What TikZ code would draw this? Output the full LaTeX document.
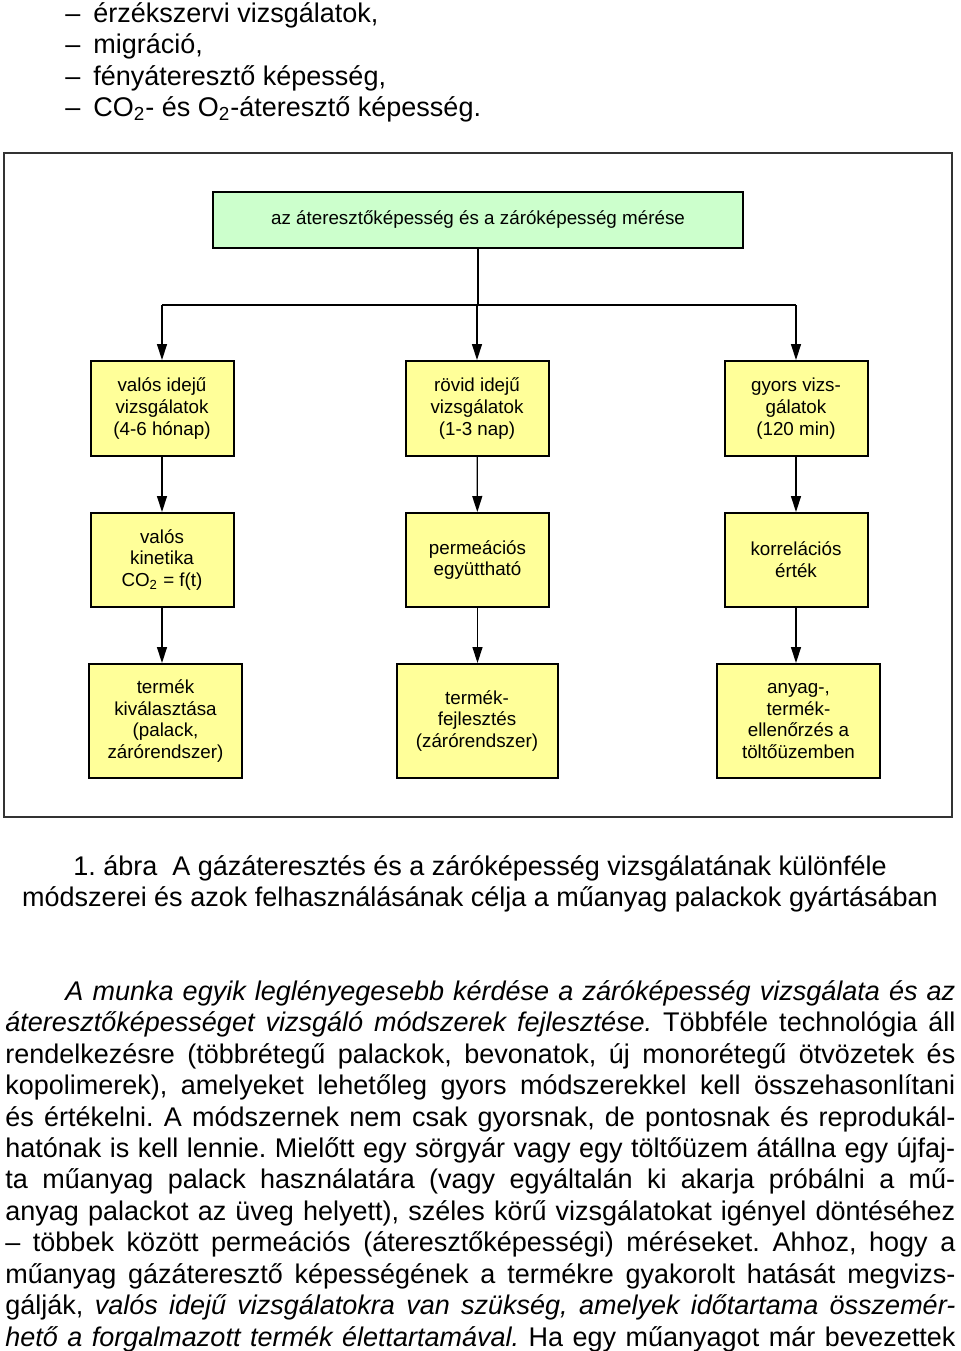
\documentclass[tikz,border=0pt]{standalone}
\usepackage{fontspec}
\setmainfont{Liberation Sans}
\usetikzlibrary{arrows.meta}
\frenchspacing
\definecolor{boxgreen}{RGB}{204,255,204}
\definecolor{boxyellow}{RGB}{255,255,153}
\newcommand{\jline}[2]{\makebox[#1][s]{#2}}
\tikzset{
	flowbox/.style={draw=black, line width=1pt, fill=boxyellow, align=center, inner sep=2pt, font=\fontsize{9.4}{10.85}\selectfont},
	headbox/.style={flowbox, fill=boxgreen},
	flowline/.style={line width=0.65pt},
	flowarrow/.style={flowline, -{Triangle[length=8pt,width=5pt]}},
	bodytext/.style={inner sep=0pt, anchor=base west, font=\fontsize{13.5}{15.75}\selectfont},
}

\begin{document}
\begin{tikzpicture}[x=0.5pt, y=-0.5pt]
			%%%%% START %%%%%
			\useasboundingbox (0, 0) rectangle (960, 1351);
			
			% list above the figure
			\foreach \yy/\txt in {22/{érzékszervi vizsgálatok,}, 53/{migráció,}, 85/{fényáteresztő képesség,}, 116/{CO\textsubscript{2}- és O\textsubscript{2}-áteresztő képesség.}} {
				\node[bodytext] (dash\yy) at (65, \yy) {–};
				\node[bodytext] (item\yy) at (93, \yy) {\txt};
			}
			
			% frame of the figure
			\draw[line width=1pt, color=black!80] (4, 153) rectangle (952, 817);
			
			\node[headbox, minimum width=265pt, minimum height=28pt] (meres) at (478, 220) {az áteresztőképesség és a záróképesség mérése};
			
			\node[flowbox, minimum width=71.5pt, minimum height=47.5pt] (valos) at (162, 408.5) {valós idejű\\vizsgálatok\\(4-6 hónap)};
			\node[flowbox, minimum width=71.5pt, minimum height=47.5pt] (rovid) at (477, 408.5) {rövid idejű\\vizsgálatok\\(1-3 nap)};
			\node[flowbox, minimum width=71.5pt, minimum height=47.5pt] (gyors) at (796, 408.5) {gyors vizs-\\gálatok\\(120 min)};
			
			\node[flowbox, minimum width=71.5pt, minimum height=47pt] (kinetika) at (162, 560) {valós\\kinetika\\CO\textsubscript{2} = f(t)};
			\node[flowbox, minimum width=71.5pt, minimum height=47pt] (permeacio) at (477.5, 560) {permeációs\\együttható};
			\node[flowbox, minimum width=71.5pt, minimum height=47pt] (korrelacio) at (796, 560) {korrelációs\\érték};
			
			\node[flowbox, minimum width=76.5pt, minimum height=57pt] (kivalasztas) at (165.5, 721) {termék\\kiválasztása\\(palack,\\zárórendszer)};
			\node[flowbox, minimum width=80.5pt, minimum height=57pt] (fejlesztes) at (477, 721) {termék-\\fejlesztés\\(zárórendszer)};
			\node[flowbox, minimum width=81.5pt, minimum height=57pt] (ellenorzes) at (798.5, 721) {anyag-,\\termék-\\ellenőrzés a\\töltőüzemben};
			
			\coordinate (split) at (478, 305);
			\draw[flowline] (meres.south) -- (split);
			\draw[flowline] (split -| valos) -- (split -| gyors);
			\draw[flowarrow] (split -| valos) -- (valos.north);
			\draw[flowarrow] (split -| rovid) -- (rovid.north);
			\draw[flowarrow] (split -| gyors) -- (gyors.north);
			
			\draw[flowarrow] (valos) -- (kinetika);
			\draw[flowarrow] (rovid) -- (permeacio);
			\draw[flowarrow] (gyors) -- (korrelacio);
			\draw[flowarrow] (kinetika) -- (kivalasztas.north -| kinetika);
			\draw[flowarrow] (permeacio) -- (fejlesztes.north -| permeacio);
			\draw[flowarrow] (korrelacio) -- (ellenorzes.north -| korrelacio);
			
			% caption
			\node[bodytext, anchor=base] (cap1) at (480, 875) {1. ábra~ A gázáteresztés és a záróképesség vizsgálatának különféle};
			\node[bodytext, anchor=base] (cap2) at (480, 906) {módszerei és azok felhasználásának célja a műanyag palackok gyártásában};
			
			% paragraph
			\node[bodytext] (par1) at (65, 1000) {\jline{445pt}{\itshape A munka egyik leglényegesebb kérdése a záróképesség vizsgálata és az}};
			\node[bodytext] (par2) at (5, 1031) {\jline{475pt}{\itshape áteresztőképességet vizsgáló módszerek fejlesztése.\upshape{} Többféle technológia áll}};
			\node[bodytext] (par3) at (5, 1063) {\jline{475pt}{rendelkezésre (többrétegű palackok, bevonatok, új monorétegű ötvözetek és}};
			\node[bodytext] (par4) at (5, 1094) {\jline{475pt}{kopolimerek), amelyeket lehetőleg gyors módszerekkel kell összehasonlítani}};
			\node[bodytext] (par5) at (5, 1126) {\jline{475pt}{és értékelni. A módszernek nem csak gyorsnak, de pontosnak és reprodukál-}};
			\node[bodytext] (par6) at (5, 1157) {\jline{475pt}{hatónak is kell lennie. Mielőtt egy sörgyár vagy egy töltőüzem átállna egy újfaj-}};
			\node[bodytext] (par7) at (5, 1188) {\jline{475pt}{ta műanyag palack használatára (vagy egyáltalán ki akarja próbálni a mű-}};
			\node[bodytext] (par8) at (5, 1220) {\jline{475pt}{anyag palackot az üveg helyett), széles körű vizsgálatokat igényel döntéséhez}};
			\node[bodytext] (par9) at (5, 1251) {\jline{475pt}{– többek között permeációs (áteresztőképességi) méréseket. Ahhoz, hogy a}};
			\node[bodytext] (par10) at (5, 1283) {\jline{475pt}{műanyag gázáteresztő képességének a termékre gyakorolt hatását megvizs-}};
			\node[bodytext] (par11) at (5, 1314) {\jline{475pt}{gálják, \itshape valós idejű vizsgálatokra van szükség, amelyek időtartama összemér-}};
			\node[bodytext] (par12) at (5, 1346) {\jline{475pt}{\itshape hető a forgalmazott termék élettartamával.\upshape{} Ha egy műanyagot már bevezettek}};
			
			%%%%% END %%%%%
\end{tikzpicture}
\end{document}
